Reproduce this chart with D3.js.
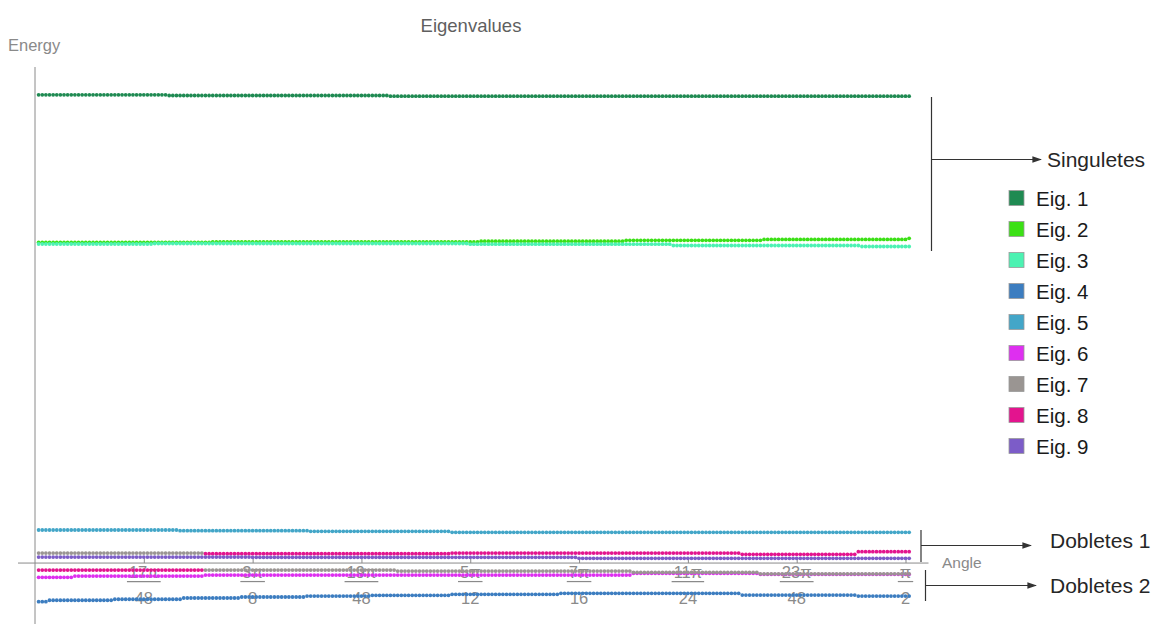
<!DOCTYPE html>
<html>
<head>
<meta charset="utf-8">
<script src="https://cdn.jsdelivr.net/npm/d3@7"></script>
<style>
  html, body { margin: 0; padding: 0; background: #fff; }
  svg { display: block; font-family: "Liberation Sans", Arial, sans-serif; }
</style>
</head>
<body>
<svg id="chart" width="1158" height="624"></svg>
<script>
// Sample index k = 1..241, angle = pi/3 + k*pi/1440
const sampleIndex = d3.range(1, 242);

// Each eigenvalue as runs of constant level: [first sample index, energy]
const eig1 = [[1, 18.747], [37, 18.718], [98, 18.690]];
const eig2 = [[1, 12.84], [49, 12.853], [123, 12.885], [163, 12.921], [201, 12.957], [241, 13.0]];
const eig3 = [[1, 12.773], [33, 12.793], [120, 12.765], [176, 12.713], [228, 12.673]];
const eig4 = [[1, -1.547], [4, -1.49], [22, -1.45], [41, -1.40], [57, -1.36], [75, -1.32], [93, -1.29], [115, -1.25], [145, -1.21], [195, -1.28], [227, -1.32]];
const eig5 = [[1, 1.323], [40, 1.295], [76, 1.271], [115, 1.231]];
const eig6 = [[1, -0.57], [11, -0.52], [47, -0.48], [165, -0.41], [200, -0.45]];
const eig7 = [[1, 0.40], [47, -0.28], [100, -0.32], [165, -0.37], [200, -0.43]];
const eig8 = [[1, -0.28], [47, 0.375], [115, 0.40], [195, 0.35], [227, 0.455]];
const eig9 = [[1, 0.24], [60, 0.23], [150, 0.19]];

const seriesNames = ["Eig. 1", "Eig. 2", "Eig. 3", "Eig. 4", "Eig. 5", "Eig. 6", "Eig. 7", "Eig. 8", "Eig. 9"];
const seriesRuns = [eig1, eig2, eig3, eig4, eig5, eig6, eig7, eig8, eig9];
const seriesColors = ["#1f8a52", "#3be015", "#4cf2b2", "#3c7dc0", "#43a6c8", "#de2ff0", "#9a9592", "#e3148e", "#7c5cc8"];

// x tick labels: numer*pi/denom
const tickNumer = [17, 3, 19, 5, 7, 11, 23, 1];
const tickDenom = [48, 8, 48, 12, 16, 24, 48, 2];

function levelAt(runs, k) {
  let v = runs[0][1];
  for (const [start, val] of runs) if (k >= start) v = val;
  return v;
}

const svg = d3.select("#chart");

const x = d3.scaleLinear().domain([Math.PI / 3, Math.PI / 2]).range([35, 905.5]);
const y = d3.scaleLinear().domain([-2.44, 19.86]).range([624, 67]);
const angleOf = k => Math.PI / 3 + k * Math.PI / 1440;

// Title and axis names
svg.append("text").attr("x", 471).attr("y", 32).attr("text-anchor", "middle")
  .attr("font-size", 18.5).attr("fill", "#5f5f5f").text("Eigenvalues");
svg.append("text").attr("x", 8).attr("y", 51)
  .attr("font-size", 16.5).attr("fill", "#8a8a8a").text("Energy");
svg.append("text").attr("x", 942).attr("y", 568)
  .attr("font-size", 15.5).attr("fill", "#8a8a8a").text("Angle");

// Axes
svg.append("line").attr("x1", 35).attr("x2", 35).attr("y1", y.range()[1]).attr("y2", 624)
  .attr("stroke", "#8a8a8a").attr("stroke-width", 1);
svg.append("line").attr("x1", x.range()[0] - 17).attr("x2", x.range()[1] + 23)
  .attr("y1", y(0)).attr("y2", y(0)).attr("stroke", "#8a8a8a").attr("stroke-width", 1);

const tickVals = tickNumer.map((n, i) => n / tickDenom[i] * Math.PI);
const xAxis = d3.axisBottom(x).tickValues(tickVals).tickSize(-5).tickFormat("");
const gx = svg.append("g").attr("transform", `translate(0,${y(0)})`).call(xAxis);
gx.select(".domain").remove();
gx.selectAll(".tick line").attr("stroke", "#8a8a8a");

// Fraction tick labels
const frac = svg.append("g").selectAll("g").data(tickVals).join("g")
  .attr("transform", d => `translate(${x(d)},${y(0)})`)
  .attr("fill", "#8a8a8a").attr("font-size", 16.5).attr("text-anchor", "middle");
frac.append("text").attr("y", 15).text((d, i) => tickNumer[i] === 1 ? "π" : tickNumer[i] + "π")
  .each(function () {
    const w = this.getComputedTextLength() + 4;
    d3.select(this.parentNode).append("line")
      .attr("x1", -w / 2).attr("x2", w / 2).attr("y1", 18.5).attr("y2", 18.5)
      .attr("stroke", "#8a8a8a").attr("stroke-width", 1.2);
  });
frac.append("text").attr("y", 41).text((d, i) => tickDenom[i]);

// Points
seriesRuns.forEach((runs, s) => {
  svg.append("g").selectAll("circle")
    .data(sampleIndex.map(k => ({ a: angleOf(k), e: levelAt(runs, k) })))
    .join("circle")
    .attr("cx", d => x(d.a)).attr("cy", d => y(d.e)).attr("r", 1.9)
    .attr("fill", seriesColors[s]);
});

// Legend
const leg = svg.append("g").selectAll("g").data(seriesNames).join("g")
  .attr("transform", (d, i) => `translate(1009,${198 + i * 31})`);
leg.append("rect").attr("x", 0).attr("y", -7.5).attr("width", 15).attr("height", 15)
  .attr("fill", (d, i) => seriesColors[i]).attr("stroke", "#9a9a9a").attr("stroke-width", 0.8);
leg.append("text").attr("x", 27).attr("y", 7.5).attr("font-size", 20.5).attr("fill", "#1a1a1a").text(d => d);

// Group brackets with arrows
const defs = svg.append("defs");
defs.append("marker").attr("id", "arrow").attr("viewBox", "0 0 10 10").attr("refX", 9).attr("refY", 5)
  .attr("markerWidth", 8).attr("markerHeight", 8).attr("orient", "auto")
  .append("path").attr("d", "M0,1.5 L10,5 L0,8.5 Z").attr("fill", "#333");

function bracket(bx, top, bottom, ay, ax2, label, tx, ty) {
  const g = svg.append("g").attr("stroke", "#333").attr("stroke-width", 1.2);
  g.append("line").attr("x1", bx).attr("x2", bx).attr("y1", top).attr("y2", bottom);
  g.append("line").attr("x1", bx).attr("x2", ax2).attr("y1", ay).attr("y2", ay).attr("marker-end", "url(#arrow)");
  svg.append("text").attr("x", tx).attr("y", ty).attr("font-size", 21).attr("fill", "#262626").text(label);
}
bracket(931.5, 97, 251, 159.5, 1041, "Singuletes", 1047, 166.5);
bracket(921, 530, 562, 545.5, 1031, "Dobletes 1", 1050, 547.5);
bracket(925.5, 570, 601, 585.5, 1036, "Dobletes 2", 1050, 593);
</script>
</body>
</html>
